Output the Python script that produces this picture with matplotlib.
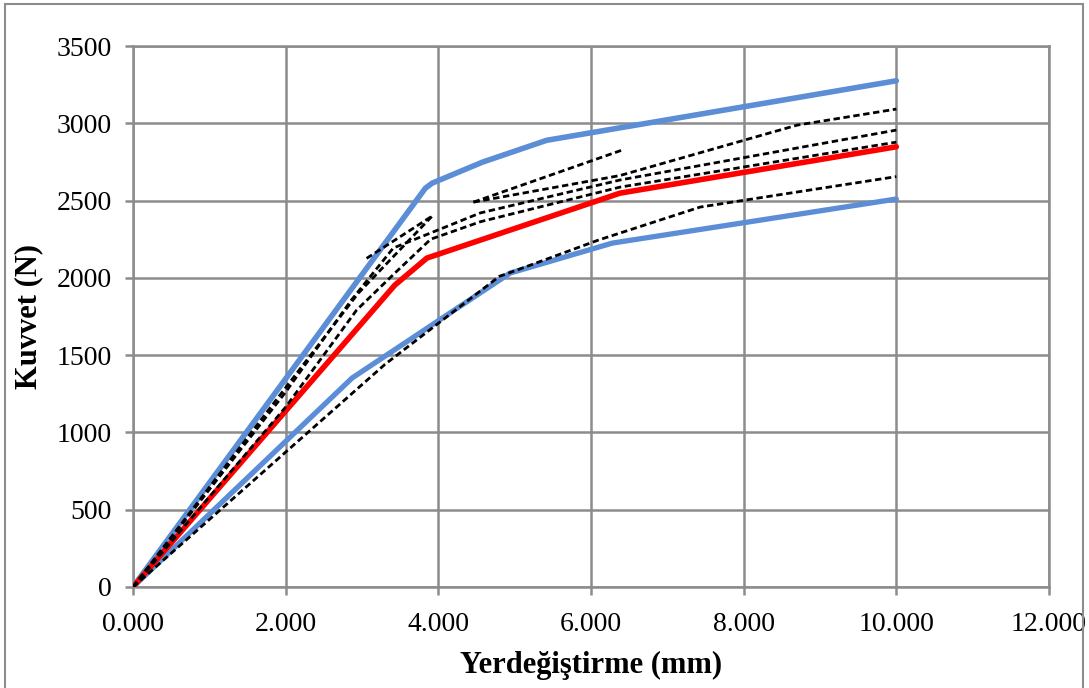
import matplotlib
matplotlib.use("Agg")
import matplotlib.pyplot as plt
from matplotlib.patches import Rectangle

# envelope and mean curves
upper_x = [0, 3.83, 3.92, 4.58, 5.42, 10.0]
upper_y = [0, 2580, 2613, 2749, 2890, 3275]
lower_x = [0, 2.87, 4.94, 6.28, 10.0]
lower_y = [0, 1352, 2031, 2225, 2510]
mean_x = [0, 3.43, 3.85, 6.38, 10.0]
mean_y = [0, 1953, 2128, 2548, 2848]

# individual test curves (dashed)
t1_x = [0, 3.3, 4.8, 5.0, 6.1, 7.43, 10.0]
t1_y = [0, 1440, 2010, 2045, 2245, 2458, 2655]
t2_x = [0, 2.0, 2.93, 3.45, 3.9, 4.55, 6.38, 10.0]
t2_y = [0, 1164, 1792, 2040, 2250, 2363, 2587, 2878]
t3_x = [0, 2.0, 2.86, 3.41, 4.55, 6.38, 10.0]
t3_y = [0, 1261, 1856, 2193, 2420, 2633, 2956]
t4_x = [0, 2.0, 2.95, 3.92]
t4_y = [0, 1290, 1900, 2400]
t5_x = [3.06, 3.92]
t5_y = [2126, 2400]
t6_x = [4.46, 6.38, 8.7, 10.0]
t6_y = [2490, 2662, 2988, 3092]
t7_x = [4.46, 6.41]
t7_y = [2490, 2827]

xticks = [0, 2, 4, 6, 8, 10, 12]
yticks = [0, 500, 1000, 1500, 2000, 2500, 3000, 3500]

plt.rcParams['font.family'] = ['Liberation Serif', 'DejaVu Serif']

fig = plt.figure(figsize=(10.89, 6.88), dpi=100)
ax = fig.add_axes([133/1089, 1 - 587/688, (1049 - 133)/1089, (587 - 46)/688])

grey = '#8c8c8c'
blue = '#5b8ed6'

ax.plot(upper_x, upper_y, color=blue, lw=4.0, solid_capstyle='round', zorder=3)
ax.plot(lower_x, lower_y, color=blue, lw=3.8, solid_capstyle='round', zorder=3)
ax.plot(mean_x, mean_y, color='#ff0000', lw=4.0, solid_capstyle='round', zorder=3)

tests = [(t1_x, t1_y), (t2_x, t2_y), (t3_x, t3_y), (t4_x, t4_y),
         (t5_x, t5_y), (t6_x, t6_y), (t7_x, t7_y)]
for tx, ty in tests:
    ax.plot(tx, ty, color='black', lw=2.0, dashes=(2.3, 1.3), zorder=4)

ax.set_xlim(0, 12)
ax.set_ylim(0, 3500)
ax.set_xticks(xticks)
ax.set_xticklabels(['%.3f' % v for v in xticks])
ax.set_yticks(yticks)
ax.grid(True, color=grey, lw=1.8)
ax.set_axisbelow(True)
for s in ax.spines.values():
    s.set_color(grey)
    s.set_linewidth(1.8)
ax.tick_params(axis='both', colors=grey, width=1.8, length=6, labelsize=20,
               labelcolor='black', pad=9)
ax.tick_params(axis='x', pad=12)

ax.set_xlabel('Yerdeğiştirme (mm)', fontsize=22, fontweight='bold', labelpad=10)
ax.set_ylabel('Kuvvet (N)', fontsize=22, fontweight='bold', labelpad=10)

# outer chart frame
fig.patches.append(Rectangle((5/1089, -0.05), (1083 - 5)/1089, 1.05 - 4/688,
                             transform=fig.transFigure, fill=False,
                             edgecolor=grey, lw=1.5))

fig.savefig('out.png', dpi=100)
